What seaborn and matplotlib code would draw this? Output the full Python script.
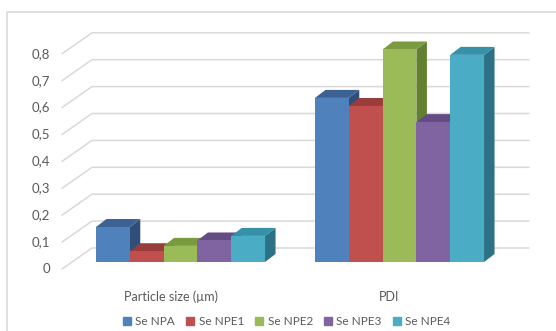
import matplotlib
matplotlib.use("Agg")
import matplotlib.pyplot as plt
from matplotlib.patches import Polygon
from matplotlib.lines import Line2D
import pandas as pd
import seaborn as sns

# --- data -------------------------------------------------------------
categories = ["Particle size (µm)", "PDI"]
series = ["Se NPA", "Se NPE1", "Se NPE2", "Se NPE3", "Se NPE4"]
particle_size = [0.13, 0.04, 0.06, 0.08, 0.097]
pdi = [0.61, 0.58, 0.79, 0.52, 0.77]
y_ticks = [0.0, 0.1, 0.2, 0.3, 0.4, 0.5, 0.6, 0.7, 0.8]
y_tick_labels = ["0", "0,1", "0,2", "0,3", "0,4", "0,5", "0,6", "0,7", "0,8"]

# --- styling ----------------------------------------------------------
front_colors = ["#4F81BD", "#C0504D", "#9BBB59", "#8064A2", "#4BACC6"]
top_colors = ["#3B6293", "#9A3C3A", "#7A9A40", "#644D84", "#3690A8"]
side_colors = ["#2F4F78", "#7E302F", "#62802F", "#52406C", "#2D7184"]
text_color = "#595959"
grid_color = "#D9D9D9"

W, H, DPI = 556, 331, 100

rows = []
for s, a, b in zip(series, particle_size, pdi):
    rows.append({"category": categories[0], "series": s, "value": a})
    rows.append({"category": categories[1], "series": s, "value": b})
df = pd.DataFrame(rows)

sns.set_theme(style="white")
plt.rcParams["font.family"] = ["Lato", "DejaVu Sans"]

fig = plt.figure(figsize=(W / DPI, H / DPI), dpi=DPI)
fig.patch.set_facecolor("white")

# axes: y=0 sits on the front face of the bars, 269 px per unit
ax_left, ax_right = 62, 529
base_py, px_per_unit = 262, 269
ax = fig.add_axes([ax_left / W, (H - base_py) / H,
                   (ax_right - ax_left) / W, 0.9 * px_per_unit / H])

sns.barplot(data=df, x="category", y="value", hue="series",
            order=categories, hue_order=series, palette=front_colors,
            width=0.772, saturation=1, errorbar=None, legend=False,
            linewidth=0, ax=ax)

group_px = 219
xl = -(180.5 - ax_left) / group_px
xr = (ax_right - 180.5) / group_px
ax.set_xlim(xl, xr)
ax.set_ylim(0, 0.9)
ax.set_axis_off()

# pixel -> data scale factors
p0 = ax.transData.transform((0, 0))
p1 = ax.transData.transform((1, 1))
sx, sy = p1[0] - p0[0], p1[1] - p0[1]

# depth geometry (pixels)
bar_dx, bar_dy = 10.5, 8.0          # depth of each column
front_dx, front_dy = -10.0, -7.0    # front edge of the floor vs. bar faces
wall_dx, wall_dy = 20.0, 14.0       # back wall vs. bar faces

# back wall grid lines with the diagonal side-wall segment
for v in y_ticks:
    fx, fy = xl + (front_dx + 10) / sx, v + front_dy / sy
    bx, by = xl + (wall_dx + 10) / sx, v + wall_dy / sy
    ax.plot([fx, bx, xr], [fy, by, by], color=grid_color, lw=1.1,
            zorder=1, clip_on=False, solid_joinstyle="miter")

for v, lab in zip(y_ticks, y_tick_labels):
    ax.text(xl - 12 / sx, v + front_dy / sy, lab, ha="right", va="center",
            fontsize=9.5, color=text_color, clip_on=False)

for i, cat in enumerate(categories):
    ax.text(i + front_dx / sx, -(297 - base_py) / sy, cat, ha="center",
            va="center", fontsize=9, color=text_color, clip_on=False)

# 3D faces on every column
ddx, ddy = bar_dx / sx, bar_dy / sy
for k, cont in enumerate(ax.containers):
    for patch in cont:
        x0, w, h = patch.get_x(), patch.get_width(), patch.get_height()
        x1 = x0 + w
        patch.set_zorder(3 + k + 0.5)
        patch.set_clip_on(False)
        top = Polygon([(x0, h), (x1, h), (x1 + ddx, h + ddy), (x0 + ddx, h + ddy)],
                      closed=True, facecolor=top_colors[k], edgecolor="none",
                      zorder=3 + k, clip_on=False)
        side = Polygon([(x1, 0), (x1, h), (x1 + ddx, h + ddy), (x1 + ddx, ddy)],
                       closed=True, facecolor=side_colors[k], edgecolor="none",
                       zorder=3 + k, clip_on=False)
        ax.add_patch(side)
        ax.add_patch(top)

# legend
handles = [Line2D([], [], marker="s", linestyle="none", markersize=5.5,
                  markerfacecolor=c, markeredgecolor=c) for c in front_colors]
fig.legend(handles, series, loc="center", bbox_to_anchor=(287 / W, 1 - 321.5 / H),
           ncol=5, frameon=False, handletextpad=0.4, columnspacing=1.0,
           handlelength=0.6, fontsize=8.5, labelcolor=text_color)

# chart area border
fig.add_artist(Line2D([7 / W, 7 / W, 1], [0, 1 - 12 / H, 1 - 12 / H],
                      transform=fig.transFigure, color=grid_color, lw=1.2))

fig.savefig("out.png", dpi=DPI, facecolor="white")
